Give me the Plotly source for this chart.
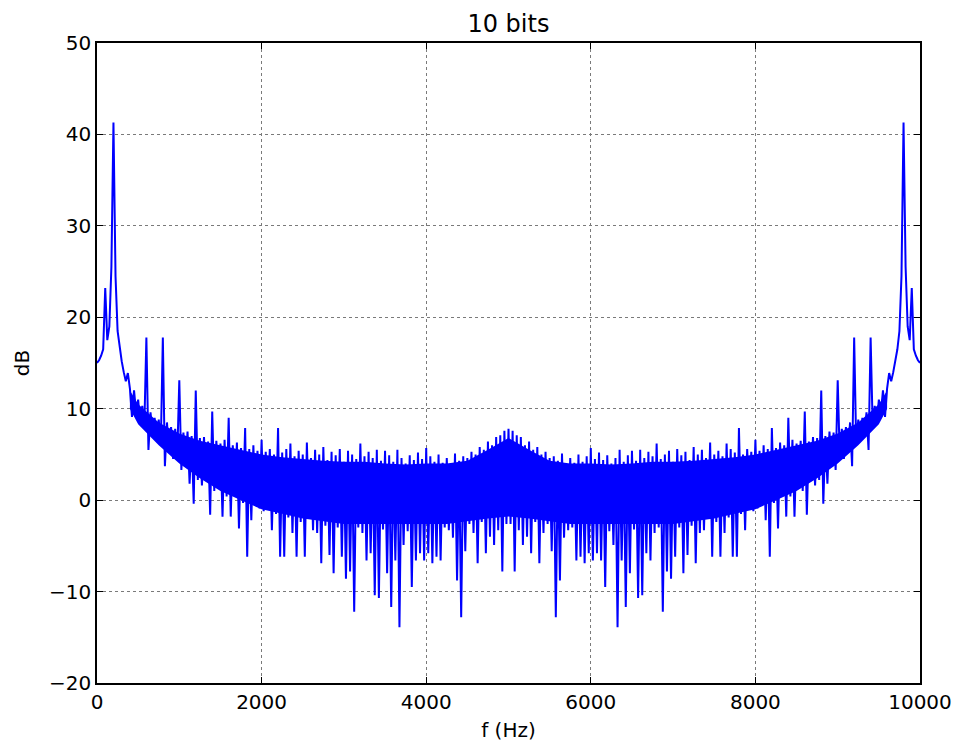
import plotly.graph_objects as go

# Frequency-bin spacing of the read-off spectrum (Hz)
freq_step_hz = 25

# dB values, f = 0 ... 5000 Hz (25 Hz steps)
db_0_to_5000 = [
    15.0, 15.3, 15.8, 16.5, 23.2, 17.5, 19.0, 25.5, 41.3, 24.5,
    18.5, 16.5, 15.2, 14.0, 13.0, 13.9, 12.2, 9.1, 12.0, 9.6,
    11.0, 8.4, 10.3, 8.0, 17.8, 5.5, 9.6, 7.4, 9.0, 6.5,
    8.8, 6.0, 17.8, 3.7, 8.5, 5.2, 8.0, 4.5, 7.8, 4.8,
    13.1, 3.3, 7.4, 3.9, 7.5, 1.8, 7.0, -0.4, 12.0, 2.2,
    6.8, 1.6, 6.9, 2.4, 6.4, -1.6, 9.7, 1.0, 6.5, 1.8,
    6.2, -1.8, 6.6, 0.4, 9.0, -1.8, 6.0, 0.9, 6.3, -3.1,
    5.7, -0.3, 7.9, -6.2, 5.6, -2.2, 6.0, -0.6, 5.4, -0.9,
    6.6, -1.2, 5.3, 0.2, 5.6, -3.3, 5.0, -1.5, 7.9, -6.2,
    5.2, -6.2, 5.6, -1.9, 6.2, -3.6, 4.8, -6.2, 5.4, -2.4,
    5.0, -6.2, 6.3, -1.6, 4.6, -3.3, 5.5, -3.6, 5.0, -6.9,
    5.8, -2.8, 4.4, -6.0, 5.3, -8.0, 4.9, -3.0, 5.6, -6.2,
    4.2, -8.6, 5.4, -7.8, 5.0, -12.2, 4.5, -3.0, 6.2, -3.6,
    4.8, -6.6, 5.3, -5.8, 4.6, -10.4, 5.5, -10.7, 4.3, -3.2,
    5.4, -8.0, 4.9, -11.7, 4.2, -6.6, 5.5, -13.9, 4.6, -4.9,
    4.0, -3.4, 4.9, -9.5, 4.4, -6.6, 5.2, -5.8, 4.5, -6.6,
    5.7, -5.8, 4.8, -6.9, 4.2, -6.2, 5.0, -6.6, 4.1, -3.0,
    4.6, -3.3, 3.9, -4.1, 5.1, -8.8, 4.3, -12.8, 4.8, -5.6,
    4.6, -2.6, 5.3, -3.6, 5.0, -6.9, 5.8, -2.4, 5.5, -5.8,
    6.4, -4.0, 6.0, -4.9, 6.9, -3.3, 7.1, -7.8, 7.6, -2.6,
    7.8,
]

# dB values, f = 5025 ... 10000 Hz (25 Hz steps)
db_5025_to_10000 = [
    -2.6, 7.6, -7.8, 7.1, -3.3, 6.9, -4.9, 6.0, -4.0, 6.4,
    -5.8, 5.5, -2.4, 5.8, -6.9, 5.0, -3.6, 5.3, -2.6, 4.6,
    -5.6, 4.8, -12.8, 4.3, -8.8, 5.1, -4.1, 3.9, -3.3, 4.6,
    -3.0, 4.1, -6.6, 5.0, -6.2, 4.2, -6.9, 4.8, -5.8, 5.7,
    -6.6, 4.5, -5.8, 5.2, -6.6, 4.4, -9.5, 4.9, -3.4, 4.0,
    -4.9, 4.6, -13.9, 5.5, -6.6, 4.2, -11.7, 4.9, -8.0, 5.4,
    -3.2, 4.3, -10.7, 5.5, -10.4, 4.6, -5.8, 5.3, -6.6, 4.8,
    -3.6, 6.2, -3.0, 4.5, -12.2, 5.0, -7.8, 5.4, -8.6, 4.2,
    -6.2, 5.6, -3.0, 4.9, -8.0, 5.3, -6.0, 4.4, -2.8, 5.8,
    -6.9, 5.0, -3.6, 5.5, -3.3, 4.6, -1.6, 6.3, -6.2, 5.0,
    -2.4, 5.4, -6.2, 4.8, -3.6, 6.2, -1.9, 5.6, -6.2, 5.2,
    -6.2, 7.9, -1.5, 5.0, -3.3, 5.6, 0.2, 5.3, -1.2, 6.6,
    -0.9, 5.4, -0.6, 6.0, -2.2, 5.6, -6.2, 7.9, -0.3, 5.7,
    -3.1, 6.3, 0.9, 6.0, -1.8, 9.0, 0.4, 6.6, -1.8, 6.2,
    1.8, 6.5, 1.0, 9.7, -1.6, 6.4, 2.4, 6.9, 1.6, 6.8,
    2.2, 12.0, -0.4, 7.0, 1.8, 7.5, 3.9, 7.4, 3.3, 13.1,
    4.8, 7.8, 4.5, 8.0, 5.2, 8.5, 3.7, 17.8, 6.0, 8.8,
    6.5, 9.0, 7.4, 9.6, 5.5, 17.8, 8.0, 10.3, 8.4, 11.0,
    9.6, 12.0, 9.1, 12.2, 13.9, 13.0, 14.0, 15.2, 16.5, 18.5,
    24.5, 41.3, 25.5, 19.0, 17.5, 23.2, 16.5, 15.8, 15.3, 15.0,
]

# Dense (visually solid) core of the noise band
band_freqs = [
    400, 500, 750, 1000, 1250, 1500, 1750, 2000, 2250, 2500,
    2750, 3000, 3250, 3500, 3750, 4000, 4250, 4500, 4750, 5000,
    5250, 5500, 5750, 6000, 6250, 6500, 6750, 7000, 7250, 7500,
    7750, 8000, 8250, 8500, 8750, 9000, 9250, 9500, 9600,
]
band_top_db = [
    12.0, 10.5, 8.5, 7.3, 6.5, 6.0, 5.5, 5.0, 4.7, 4.5,
    4.3, 4.2, 4.2, 4.0, 3.9, 4.0, 4.0, 4.3, 5.5, 6.8,
    5.5, 4.3, 4.0, 4.0, 3.9, 4.0, 4.2, 4.2, 4.3, 4.5,
    4.7, 5.0, 5.5, 6.0, 6.5, 7.3, 8.5, 10.5, 12.0,
]
band_bottom_db = [
    10.0, 8.3, 6.0, 4.0, 2.4, 1.0, 0.0, -1.0, -1.5, -2.0,
    -2.3, -2.6, -2.6, -2.6, -2.6, -2.6, -2.6, -2.3, -2.0, -1.8,
    -2.0, -2.3, -2.6, -2.6, -2.6, -2.6, -2.6, -2.6, -2.3, -2.0,
    -1.5, -1.0, 0.0, 1.0, 2.4, 4.0, 6.0, 8.3, 10.0,
]

x_tick_vals = [0, 2000, 4000, 6000, 8000, 10000]
y_tick_vals = [-20, -10, 0, 10, 20, 30, 40, 50]

db_values = db_0_to_5000 + db_5025_to_10000
freqs = [i * freq_step_hz for i in range(len(db_values))]

font_family = "DejaVu Sans, Liberation Sans, sans-serif"
blue = "#0000ff"

fig = go.Figure()
fig.add_trace(go.Scatter(
    x=band_freqs, y=band_top_db, mode="lines",
    line=dict(color=blue, width=0), hoverinfo="skip", showlegend=False,
))
fig.add_trace(go.Scatter(
    x=band_freqs, y=band_bottom_db, mode="lines",
    line=dict(color=blue, width=0), fill="tonexty", fillcolor=blue,
    hoverinfo="skip", showlegend=False,
))
fig.add_trace(go.Scatter(
    x=freqs, y=db_values, mode="lines",
    line=dict(color=blue, width=2), showlegend=False,
))

axis_common = dict(
    showline=True,
    linecolor="black",
    linewidth=1.5,
    mirror="ticks",
    ticks="inside",
    ticklen=6,
    tickwidth=1,
    tickcolor="black",
    showgrid=True,
    gridcolor="#7a7a7a",
    gridwidth=1,
    griddash="dot",
    zeroline=False,
    automargin=False,
    tickfont=dict(family=font_family, size=20, color="black"),
)

fig.update_layout(
    width=957,
    height=747,
    margin=dict(l=97, r=37, t=43, b=64),
    paper_bgcolor="white",
    plot_bgcolor="white",
    showlegend=False,
    title=dict(
        text="10 bits",
        font=dict(family=font_family, size=24, color="black"),
        x=0.5313,
        xref="container",
        xanchor="center",
        y=1 - 24 / 747,
        yref="container",
        yanchor="middle",
    ),
    xaxis=dict(
        range=[0, 10000],
        tickvals=x_tick_vals,
        ticktext=[str(v) for v in x_tick_vals],
        title=dict(text="f (Hz)", font=dict(family=font_family, size=20, color="black"), standoff=10),
        **axis_common,
    ),
    yaxis=dict(
        range=[-20, 50],
        tickvals=y_tick_vals,
        title=dict(text="dB", font=dict(family=font_family, size=20, color="black"), standoff=14),
        **axis_common,
    ),
)

fig.write_html("out.html")
